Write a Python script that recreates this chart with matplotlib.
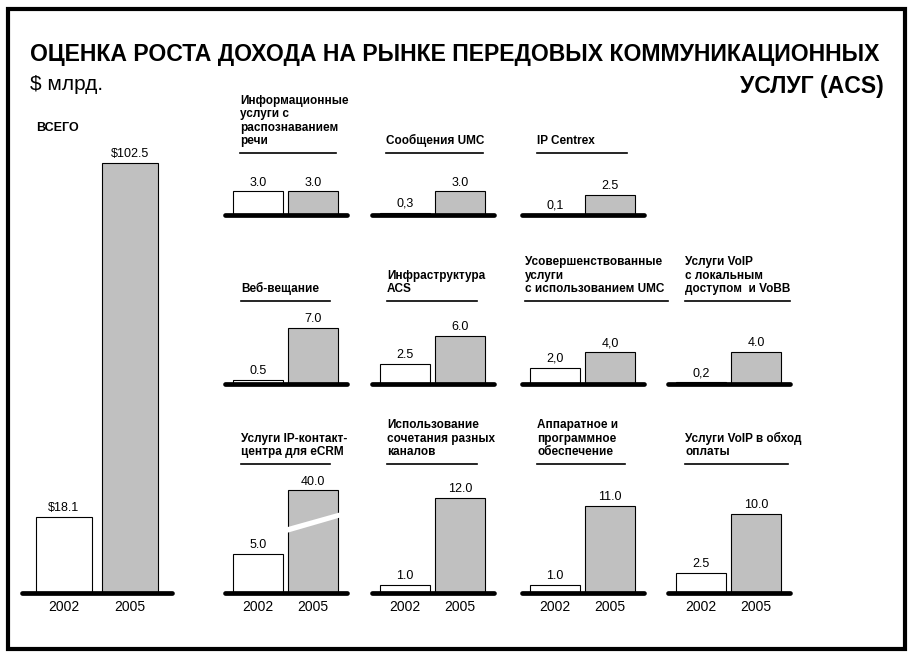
import matplotlib
matplotlib.use("Agg")
import matplotlib.pyplot as plt
from matplotlib.patches import Polygon, Rectangle

plt.rcParams['font.family'] = ['Liberation Sans', 'DejaVu Sans']

# --- data -------------------------------------------------------------------
years = ['2002', '2005']

total_values = [18.1, 102.5]
total_labels = ['$18.1', '$102.5']

segments = [
    'Информационные\nуслуги с\nраспознаванием\nречи',
    'Сообщения UMC',
    'IP Centrex',
    'Веб-вещание',
    'Инфраструктура\nACS',
    'Усовершенствованные\nуслуги\nс использованием UMC',
    'Услуги VoIP\nс локальным\nдоступом  и VoBB',
    'Услуги IP-контакт-\nцентра для eCRM',
    'Использование\nсочетания разных\nканалов',
    'Аппаратное и\nпрограммное\nобеспечение',
    'Услуги VoIP в обход\nоплаты',
]
values_2002 = [3.0, 0.3, 0.1, 0.5, 2.5, 2.0, 0.2, 5.0, 1.0, 1.0, 2.5]
values_2005 = [3.0, 3.0, 2.5, 7.0, 6.0, 4.0, 4.0, 40.0, 12.0, 11.0, 10.0]
labels_2002 = ['3.0', '0,3', '0,1', '0.5', '2.5', '2,0', '0,2', '5.0', '1.0', '1.0', '2.5']
labels_2005 = ['3.0', '3.0', '2.5', '7.0', '6.0', '4,0', '4.0', '40.0', '12.0', '11.0', '10.0']

# --- layout (pixels, origin top-left) ---------------------------------------
W, H = 914, 656
grid_pos = [(0, 0), (0, 1), (0, 2),
            (1, 0), (1, 1), (1, 2), (1, 3),
            (2, 0), (2, 1), (2, 2), (2, 3)]
col_left = [225, 372, 522, 668]
row_base = [215, 383.5, 593]
row_rule = [153, 301, 464]
rule_span = [(15, 96), (14, 97), (15, 90),
             (16, 89), (15, 90), (3, 143), (17, 105),
             (16, 89), (15, 90), (15, 88), (17, 103)]
small_w, small_h, small_scale = 122, 130, 7.9
cap_limit, cap_height = 14.0, 13.0

GRAY = '#c0c0c0'
BASE_LW = 3.4

fig = plt.figure(figsize=(W / 100, H / 100), dpi=100)

bg = fig.add_axes([0, 0, 1, 1])
bg.set_xlim(0, W)
bg.set_ylim(H, 0)
bg.axis('off')

bg.add_patch(Rectangle((8, 9), 897, 639.5, fill=False, lw=3, ec='black'))
bg.text(30, 55, 'ОЦЕНКА РОСТА ДОХОДА НА РЫНКЕ ПЕРЕДОВЫХ КОММУНИКАЦИОННЫХ',
        fontsize=16.6, weight='bold', va='center', ha='left')
bg.text(884, 86, 'УСЛУГ (ACS)', fontsize=16.6, weight='bold',
        va='center', ha='right')
bg.text(30, 84, '$ млрд.', fontsize=15, va='center', ha='left')
bg.text(36, 128, 'ВСЕГО', fontsize=9, weight='bold', va='center', ha='left')


def px_axes(left, base, width, height):
    return fig.add_axes([left / W, (H - base) / H, width / W, height / H])


def draw_pair(ax, vals, labels, width, xlim, show_years, can_break):
    ax.set_xlim(*xlim)
    ax.axis('off')
    broken = [can_break and v > cap_limit for v in vals]
    shown = [cap_height if br else v for v, br in zip(vals, broken)]
    bars = ax.bar([0, 1], shown, width=width, color=['white', GRAY],
                  edgecolor='black', linewidth=0.8, zorder=2)
    ax.plot(xlim, [0, 0], color='black', lw=BASE_LW, solid_capstyle='round',
            zorder=3, clip_on=False)
    for i, (b, lab) in enumerate(zip(bars, labels)):
        cx = b.get_x() + b.get_width() / 2
        ax.annotate(lab, (cx, shown[i]), xytext=(0, 2),
                    textcoords='offset points', ha='center', va='bottom',
                    fontsize=9, annotation_clip=False)
        if show_years:
            ax.annotate(years[i], (cx, 0), xytext=(0, -10),
                        textcoords='offset points', ha='center', va='center',
                        fontsize=10, annotation_clip=False)
        if broken[i]:
            x0 = b.get_x() - 0.02
            x1 = b.get_x() + b.get_width() + 0.07
            h = cap_height
            band = Polygon([(x0, 0.585 * h), (x1, 0.74 * h),
                            (x1, 0.79 * h), (x0, 0.64 * h)],
                           closed=True, fc='white', ec='none', zorder=2.5,
                           clip_on=False)
            ax.add_patch(band)


# main total panel
main_h = 450
ax_main = px_axes(22, 593, 150, main_h)
ax_main.set_ylim(0, main_h / 4.2)
draw_pair(ax_main, total_values, total_labels, 0.85, (-0.636, 1.636),
          True, False)

# segment panels
for k, (r, c) in enumerate(grid_pos):
    left = col_left[c]
    base = row_base[r]
    ax = px_axes(left, base, small_w, small_h)
    ax.set_ylim(0, small_h / small_scale)
    draw_pair(ax, [values_2002[k], values_2005[k]],
              [labels_2002[k], labels_2005[k]],
              0.91, (-0.6, 1.62), r == 2, True)
    off, length = rule_span[k]
    ry = row_rule[r]
    bg.plot([left + off, left + off + length], [ry, ry],
            color='black', lw=1.2)
    bg.text(left + off, ry - 6, segments[k], fontsize=8.5, weight='bold',
            ha='left', va='bottom', linespacing=1.15)

fig.savefig('out.png', dpi=100)
